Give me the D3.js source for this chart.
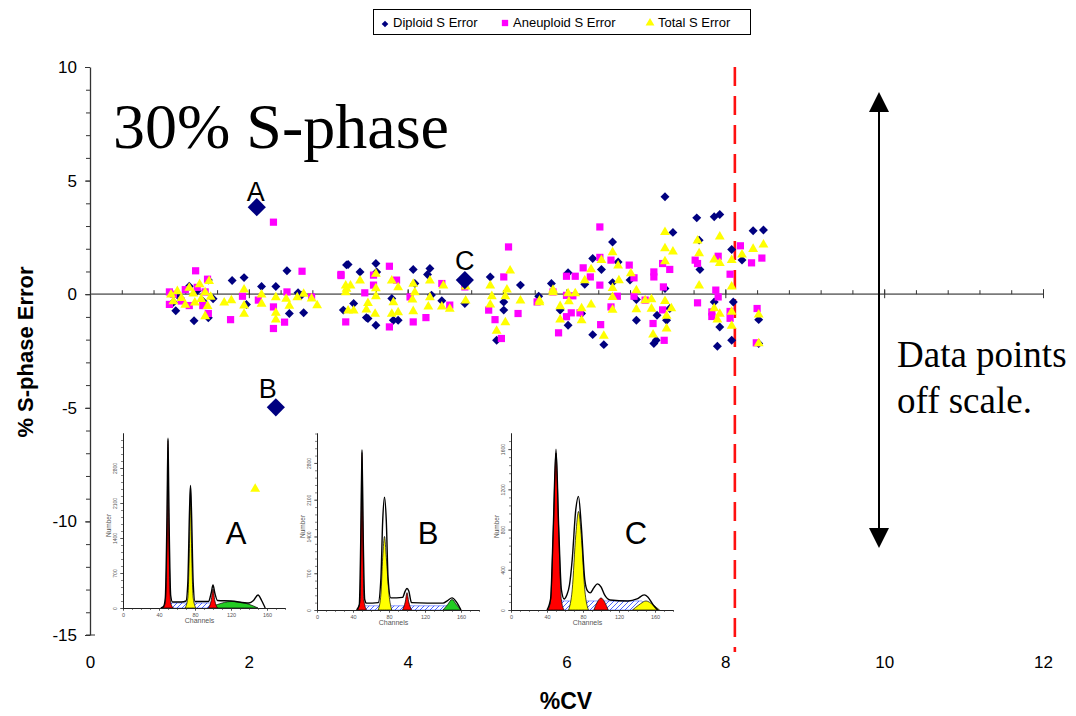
<!DOCTYPE html>
<html><head><meta charset="utf-8">
<script src="https://cdn.jsdelivr.net/npm/d3@7"></script>
<style>
html,body{margin:0;padding:0;background:#fff;}
svg{display:block;font-family:"Liberation Sans",Arial,sans-serif;}
</style></head>
<body>
<svg id="chart" width="1076" height="716"></svg>
<script>
// ---------------- DATA ----------------
const xTicks = [0, 2, 4, 6, 8, 10, 12];
const yTicks = [-15, -10, -5, 0, 5, 10];
const seriesNames = ["Diploid S Error", "Aneuploid S Error", "Total S Error"];
const cutoffCV = 8.12;

// [ %CV, % S-phase error ]
const diploid = [
[1.05,-0.35],[1.08,-0.73],[1.12,-0.1],[1.25,0.35],[1.31,-1.17],[1.35,0.15],[1.42,-0.3],[1.49,-1.04],[1.49,0.62],[1.55,-0.2],
[1.79,0.60],[1.94,0.73],[2.16,0.34],[2.34,0.34],[2.48,1.03],[2.51,-0.85],[2.69,-0.82],[2.62,0.06],[2.66,-0.05],[1.97,-0.45],
[3.23,1.29],[3.25,1.31],[3.19,-0.70],[3.32,-0.41],[3.40,0.98],[3.48,-1.03],[3.60,1.35],[3.61,0.98],[3.60,-1.37],[3.50,-1.07],
[3.80,-0.19],[3.82,-1.15],[3.88,-1.15],[4.07,1.09],[4.09,0.47],[4.28,1.13],[4.25,0.87],[4.30,-0.04],[4.43,-0.29],[4.72,-0.41],
[5.04,0.76],[5.21,-0.34],[5.21,-0.70],[5.42,0.40],[5.12,-2.03],[5.65,-0.09],[5.81,0.47],[5.92,-0.70],
[6.02,0.94],[6.02,-1.37],[6.19,-0.85],[6.23,0.44],[6.33,1.57],[6.33,-1.78],[6.44,1.09],[6.47,-2.22],[6.58,2.30],[6.58,0.51],
[6.65,1.42],[6.80,0.62],[6.88,-0.23],[6.88,-1.15],[7.10,-2.17],[7.13,-2.03],[7.14,-0.93],[7.24,4.29],[7.24,0.25],[7.26,-1.15],
[7.30,-0.63],[7.34,2.72],[7.64,3.36],[7.67,2.38],[7.68,1.09],[7.86,3.41],[7.93,3.51],[7.86,-0.34],[7.93,-1.44],[7.90,-2.29],
[8.08,1.97],[8.08,-2.03],[8.10,-0.34],[8.21,1.50],[8.35,2.79],[8.48,2.83],[8.42,-1.12],[8.42,-2.17]
];
const aneuploid = [
[1.0,0.1],[1.0,-0.45],[1.05,0.0],[1.15,-0.3],[1.2,0.2],[1.25,-0.5],[1.33,1.03],[1.35,0.3],[1.45,0.1],[1.48,0.66],
[1.49,-0.85],[1.42,-0.5],[1.77,-1.12],[1.92,-0.09],[2.12,-0.26],[2.31,-0.56],[2.31,-1.51],[2.45,-1.23],[2.48,0.10],[2.31,3.17],
[2.67,1.01],[2.79,-0.12],[3.16,0.82],[3.22,-1.22],[3.16,0.87],[3.46,0.06],[3.57,0.84],[3.57,0.40],[3.77,1.23],[3.77,-1.44],
[3.86,0.62],[4.03,-0.12],[4.07,-1.22],[4.23,-1.03],[4.43,0.47],[4.53,-0.48],[4.72,0.32],[5.02,-0.70],[5.10,-1.12],[5.18,-1.95],
[5.21,0.76],[5.27,2.08],[5.39,-0.85],[5.63,-0.34],[5.83,0.10],[5.90,-1.70],[6.00,0.79],[6.00,-0.05],[6.00,-0.99],[6.06,-0.82],
[6.08,-0.07],[6.11,0.79],[6.17,-0.82],[6.21,1.16],[6.30,0.76],[6.42,2.96],[6.42,1.62],[6.42,0.40],[6.43,-1.34],[6.56,1.50],
[6.56,-0.56],[6.64,-0.09],[6.79,1.28],[6.85,0.72],[6.85,-0.09],[6.99,-0.26],[7.10,0.98],[7.10,0.76],[7.21,1.35],[7.22,0.32],
[7.30,1.09],[7.21,-0.69],[7.09,-1.29],[7.23,-2.03],[7.62,1.50],[7.65,1.35],[7.65,-0.38],[7.91,1.67],[7.88,0.18],[7.91,-0.12],
[7.83,-0.78],[7.83,-0.98],[8.06,0.88],[8.06,-0.76],[8.06,-1.06],[8.19,2.13],[8.33,1.38],[8.46,1.59],[8.40,-0.63],[8.39,-2.14]
];
const total = [
[1.02,0.0],[1.05,-0.3],[1.1,0.15],[1.15,-0.15],[1.2,-0.45],[1.25,0.3],[1.3,0.05],[1.32,-0.35],[1.38,0.45],[1.4,-0.2],
[1.45,0.1],[1.48,-0.5],[1.5,0.6],[1.52,-0.1],[1.45,-0.95],[1.69,-0.35],[1.78,-0.25],[1.94,0.22],[1.94,-0.48],[1.94,-0.85],
[2.16,0.0],[2.16,-0.4],[2.34,-0.12],[2.34,-0.8],[2.34,-1.1],[2.47,-0.19],[2.51,-0.49],[2.61,-0.12],[2.69,0.03],[2.79,-0.17],
[2.86,-0.47],[2.08,-8.55],
[3.22,0.4],[3.28,0.4],[3.22,0.1],[3.23,0.25],[3.40,0.62],[3.25,-0.7],[3.32,-0.7],[3.50,-0.37],[3.48,-0.66],[3.60,0.28],
[3.60,-0.07],[3.60,0.91],[3.59,-0.85],[3.80,0.62],[3.88,0.32],[3.82,-0.34],[3.88,-0.78],[3.80,-0.85],[4.07,0.47],[4.09,0.1],
[4.07,-0.73],[4.06,-0.22],[4.28,0.62],[4.28,-0.12],[4.26,-0.53],[4.45,0.40],[4.43,-0.53],[4.53,-0.63],[4.73,0.35],[4.73,-0.26],
[5.29,1.06],[5.04,0.4],[5.06,-0.07],[5.04,-0.44],[5.23,-0.07],[5.25,0.22],[5.12,-1.59],[5.23,-1.22],[5.42,-0.26],[5.66,-0.26],
[5.83,0.21],[5.66,-0.34],[5.83,0.1],[5.92,-0.51],[5.92,-1.1],[6.02,0.06],[6.03,-0.30],[6.11,0.06],[6.19,-0.60],[6.19,-1.13],
[6.23,0.63],[6.31,1.11],[6.31,-0.44],[6.44,1.52],[6.47,-1.81],[6.58,1.86],[6.58,0.29],[6.58,-0.11],[6.58,-0.67],[6.65,1.28],
[6.66,0.63],[6.81,0.94],[6.88,0.19],[6.88,-0.65],[6.99,-0.25],[7.07,-0.21],[7.07,-0.62],[7.09,-1.76],[7.24,2.75],[7.24,2.04],
[7.34,1.89],[7.24,1.46],[7.24,-0.28],[7.26,-0.93],[7.26,-1.5],[7.32,-0.6],[7.65,2.38],[7.67,1.82],[7.67,0.4],[7.86,1.54],
[7.93,1.39],[7.93,2.55],[7.86,-0.6],[7.93,-0.85],[7.90,-1.1],[8.08,1.52],[8.08,0.35],[8.08,-0.76],[8.08,-1.37],[8.21,1.76],
[8.35,2.01],[8.48,2.20],[8.42,-0.88],[8.42,-2.14]
];
// highlighted example samples (diploid S error)
const exampleLabels = ["A", "B", "C"];
const exampleCV = [2.10, 2.34, 4.72];
const exampleErr = [3.83, -4.98, 0.62];

// DNA histogram insets: [channel, count]
const histAChannelTicks = [0, 40, 80, 120, 160];
const histAYTicks = [0, 700, 1400, 2100, 2800];
const histCYTicks = [0, 400, 800, 1200, 1600];
const histA_S = [[48,0],[52,100],[97,100],[101,0]];
const histA_green = [[95,0],[105,70],[120,130],[135,100],[145,40],[150,0]];
const histA_red1 = [[44,0],[47,100],[49,1600],[50,3350],[51,1600],[53,100],[56,0]];
const histA_red2 = [[95,0],[98,150],[100,380],[102,150],[105,0]];
const histA_yellow = [[69,0],[72,200],[74,1400],[75,2400],[76,1400],[78,200],[81,0]];
const histA_env = [[42,0],[45,30],[47,200],[49,2000],[50,3400],[51,2000],[53,250],[55,120],[65,120],[70,140],[72,500],[74,2000],[75,2450],[76,2000],[78,500],[80,130],[95,130],[98,300],[100,460],[102,300],[105,150],[120,140],[140,100],[145,150],[150,260],[154,150],[158,0]];

const histB_S = [[50,0],[53,80],[145,80],[150,0]];
const histB_green = [[140,0],[145,100],[150,200],[155,100],[160,0]];
const histB_red1 = [[45,0],[48,200],[49,1800],[50,3000],[51,1800],[52,200],[55,0]];
const histB_red2 = [[95,0],[98,150],[100,330],[102,150],[105,0]];
const histB_yellow = [[68,0],[71,300],[73,1000],[75,1400],[77,1000],[80,300],[83,0]];
const histB_env = [[44,0],[47,100],[49,1800],[50,3050],[51,1800],[53,200],[55,130],[68,140],[71,600],[73,1700],[75,2150],[77,1700],[79,600],[82,230],[95,240],[98,360],[100,410],[102,360],[105,140],[140,130],[145,180],[150,230],[155,150],[160,0]];

const histC_S = [[52,0],[56,90],[145,90],[150,0]];
const histC_yellow2 = [[135,0],[142,50],[150,90],[158,50],[165,0]];
const histC_red1 = [[41,0],[44,100],[47,800],[50,1560],[53,800],[56,100],[59,0]];
const histC_red2 = [[92,0],[96,80],[100,120],[104,80],[108,0]];
const histC_yellow = [[64,0],[68,200],[72,750],[75,980],[78,750],[82,200],[86,0]];
const histC_env = [[40,0],[44,110],[47,820],[50,1600],[53,820],[56,200],[59,110],[62,150],[65,250],[68,500],[72,1000],[75,1130],[78,850],[82,300],[85,190],[88,170],[92,220],[96,260],[100,230],[104,150],[110,100],[130,90],[140,110],[148,150],[152,130],[158,50],[163,0]];

// ---------------- DRAW ----------------
const svg = d3.select("#chart");
const defs = svg.append("defs");
const hatch = defs.append("pattern").attr("id","hatch").attr("patternUnits","userSpaceOnUse")
  .attr("width",5).attr("height",5);
hatch.append("rect").attr("width",5).attr("height",5).attr("fill","#fff");
hatch.append("path").attr("d","M-1,6 L6,-1").attr("stroke","#2040ff").attr("stroke-width",0.8);

const xS = d3.scaleLinear().domain([0,12]).range([90,1043]);
const yS = d3.scaleLinear().domain([-15,10]).range([635,67]);
const plain = d => String(d);

// ---- insets ----
function drawInset(cfg){
  const g = svg.append("g");
  const ix = d3.scaleLinear().domain([0,180]).range([cfg.x0, cfg.x0+162]);
  const iy = d3.scaleLinear().domain([0,cfg.yMax]).range([cfg.y0, cfg.yTop]);
  const area = d3.area().x(d=>ix(d[0])).y0(iy(0)).y1(d=>iy(d[1])).curve(d3.curveMonotoneX);
  const line = d3.line().x(d=>ix(d[0])).y(d=>iy(d[1])).curve(d3.curveMonotoneX);
  cfg.layers.forEach(L=>{
    g.append("path").attr("d",area(L.data)).attr("fill",L.fill)
      .attr("stroke",L.fill===HAT?"#2040ff":"#000").attr("stroke-width",L.fill===HAT?0.5:0.7);
  });
  g.append("path").attr("d",line(cfg.env)).attr("fill","none").attr("stroke","#000").attr("stroke-width",1.4);
  // axes
  const ax = g.append("g").attr("transform",`translate(0,${cfg.y0})`)
    .call(d3.axisBottom(ix).tickValues(histAChannelTicks).tickFormat(plain).tickSize(3).tickSizeOuter(0));
  ax.selectAll("text").attr("font-size",5.5).attr("fill","#555").attr("dy","0.5em");
  g.append("g").attr("transform",`translate(0,${cfg.y0})`)
    .call(d3.axisBottom(ix).tickValues(d3.range(0,181,10)).tickSize(2).tickFormat("").tickSizeOuter(0));
  const ay = g.append("g").attr("transform",`translate(${cfg.x0},0)`)
    .call(d3.axisLeft(iy).tickValues(cfg.yTicks).tickFormat(plain).tickSize(3).tickSizeOuter(0));
  ay.selectAll(".tick text").each(function(d){
    d3.select(this).attr("x",null).attr("dy",null).attr("text-anchor","middle")
      .attr("font-size",5).attr("fill","#555")
      .attr("transform",`translate(-6,0) rotate(-90)`);
  });
  g.append("g").attr("transform",`translate(${cfg.x0},0)`)
    .call(d3.axisLeft(iy).tickValues(d3.range(0,cfg.yMax,cfg.yMinor)).tickSize(2).tickFormat("").tickSizeOuter(0));
  g.selectAll(".domain").attr("stroke","#222").attr("stroke-width",1);
  g.selectAll(".tick line").attr("stroke","#333").attr("stroke-width",0.6);
  g.append("text").attr("transform",`translate(${cfg.x0-12},${(cfg.y0+cfg.yTop)/2+5}) rotate(-90)`)
    .attr("text-anchor","middle").attr("font-size",6.5).attr("fill","#555").text("Number");
  g.append("text").attr("x",ix(85)).attr("y",cfg.y0+15).attr("text-anchor","middle")
    .attr("font-size",7).attr("fill","#555").text("Channels");
  g.append("text").attr("x",cfg.lx).attr("y",544).attr("text-anchor","middle")
    .attr("font-size",31).attr("fill","#000").text(cfg.letter);
}
const RED="#ff0000", YEL="#ffff00", GRN="#22cc22", HAT="url(#hatch)";
drawInset({x0:123,y0:608,yTop:433,yMax:3500,yTicks:histAYTicks,yMinor:140,letter:"A",lx:236,
  layers:[{data:histA_S,fill:HAT},{data:histA_green,fill:GRN},{data:histA_red1,fill:RED},{data:histA_red2,fill:RED},{data:histA_yellow,fill:YEL}],
  env:histA_env});
drawInset({x0:317,y0:610,yTop:433,yMax:3370,yTicks:histAYTicks,yMinor:140,letter:"B",lx:428,
  layers:[{data:histB_S,fill:HAT},{data:histB_green,fill:GRN},{data:histB_red1,fill:RED},{data:histB_red2,fill:RED},{data:histB_yellow,fill:YEL}],
  env:histB_env});
drawInset({x0:511,y0:610,yTop:433,yMax:1760,yTicks:histCYTicks,yMinor:80,letter:"C",lx:636,
  layers:[{data:histC_S,fill:HAT},{data:histC_yellow2,fill:YEL},{data:histC_red1,fill:RED},{data:histC_red2,fill:RED},{data:histC_yellow,fill:YEL}],
  env:histC_env});

// ---- axes ----
const yAx = svg.append("g").attr("transform","translate(90,0)")
  .call(d3.axisLeft(yS).tickValues(yTicks).tickFormat(plain).tickSize(5).tickPadding(8).tickSizeOuter(0));
yAx.selectAll("text").attr("font-size",17).attr("fill","#000");
svg.append("g").attr("transform","translate(90,0)")
  .call(d3.axisLeft(yS).tickValues(d3.range(-15,11,1)).tickSize(4).tickFormat("").tickSizeOuter(0))
  .select(".domain").remove();
svg.append("line").attr("x1",86).attr("x2",95).attr("y1",yS(-15)).attr("y2",yS(-15)).attr("stroke","#333");
yAx.select(".domain").attr("stroke","#333").attr("stroke-width",1.3);

// zero line with ticks
svg.append("line").attr("x1",xS(0)).attr("x2",xS(12)).attr("y1",yS(0)).attr("y2",yS(0))
  .attr("stroke","#7a7a7a").attr("stroke-width",1.8);
const zt = svg.append("g").attr("transform",`translate(0,${yS(0)})`)
  .call(d3.axisTop(xS).tickValues(d3.range(0,12.01,0.4)).tickSize(4).tickFormat("").tickSizeOuter(0));
zt.select(".domain").remove();
const zt2 = svg.append("g").attr("transform",`translate(0,${yS(0)+4})`)
  .call(d3.axisTop(xS).tickValues(xTicks).tickSize(9).tickFormat("").tickSizeOuter(0));
zt2.select(".domain").remove();
svg.selectAll(".tick line").attr("stroke","#333");

// x tick labels (bottom)
const xl = svg.append("g").attr("transform","translate(0,652)")
  .call(d3.axisBottom(xS).tickValues(xTicks).tickFormat(plain).tickSize(0).tickPadding(4));
xl.select(".domain").remove();
xl.selectAll("text").attr("font-size",17).attr("fill","#000");

// axis titles
svg.append("text").attr("x",566).attr("y",709).attr("text-anchor","middle")
  .attr("font-size",23).attr("font-weight","bold").text("%CV");
svg.append("text").attr("transform","translate(33,352) rotate(-90)").attr("text-anchor","middle")
  .attr("font-size",22).attr("font-weight","bold").text("% S-phase Error");

// cutoff dashed line
svg.append("line").attr("x1",xS(cutoffCV)).attr("x2",xS(cutoffCV)).attr("y1",yS(10)).attr("y2",652)
  .attr("stroke","#ff1010").attr("stroke-width",2.6).attr("stroke-dasharray","19,10");

// ---- points ----
const diamondPath = d3.symbol(d3.symbolSquare, 40)();
const squarePath = d3.symbol(d3.symbolSquare, 52)();
const triPath = d3.symbol(d3.symbolTriangle, 42)();
const bigDiamond = d3.symbol(d3.symbolSquare, 165)();
svg.append("g").selectAll("path").data(diploid).join("path").attr("d",diamondPath)
  .attr("transform",d=>`translate(${xS(d[0])},${yS(d[1])}) rotate(45)`).attr("fill","#000080");
svg.append("g").selectAll("path").data(aneuploid).join("path").attr("d",squarePath)
  .attr("transform",d=>`translate(${xS(d[0])},${yS(d[1])})`).attr("fill","#ff00ff");
svg.append("g").selectAll("path").data(total).join("path").attr("d",triPath)
  .attr("transform",d=>`translate(${xS(d[0])},${yS(d[1])+0.5})`).attr("fill","#ffff00");
const ex = exampleLabels.map((l,i)=>({l, cv:exampleCV[i], e:exampleErr[i]}));
svg.append("g").selectAll("path").data(ex).join("path").attr("d",bigDiamond)
  .attr("transform",d=>`translate(${xS(d.cv)},${yS(d.e)}) rotate(45)`).attr("fill","#000080");
const labOff = {A:[-1,-6],B:[-8,-9],C:[0,-10]};
svg.append("g").selectAll("text").data(ex).join("text")
  .attr("x",d=>xS(d.cv)+labOff[d.l][0]).attr("y",d=>yS(d.e)+labOff[d.l][1])
  .attr("text-anchor","middle").attr("font-size",27).text(d=>d.l);

// ---- annotations ----
svg.append("text").attr("x",113).attr("y",148).attr("font-family","'Liberation Serif','Times New Roman',serif")
  .attr("font-size",64).text("30% S-phase");
const ann = svg.append("text").attr("font-family","'Liberation Serif','Times New Roman',serif").attr("font-size",37);
ann.append("tspan").attr("x",897).attr("y",367).text("Data points");
ann.append("tspan").attr("x",897).attr("y",413).text("off scale.");
// double arrow
svg.append("line").attr("x1",879).attr("x2",879).attr("y1",110).attr("y2",530).attr("stroke","#000").attr("stroke-width",2);
svg.append("path").attr("d","M879,92 L869,112 L889,112 Z").attr("fill","#000");
svg.append("path").attr("d","M879,548 L869,528 L889,528 Z").attr("fill","#000");

// ---- legend ----
const lg = svg.append("g");
lg.append("rect").attr("x",373.5).attr("y",9.5).attr("width",377).attr("height",25).attr("fill","#fff").attr("stroke","#000");
const legX = [385, 505, 650];
const legShapes = [ {p:d3.symbol(d3.symbolSquare,22)(), r:45, c:"#000080"},
  {p:d3.symbol(d3.symbolSquare,40)(), r:0, c:"#ff00ff"},
  {p:d3.symbol(d3.symbolTriangle,34)(), r:0, c:"#ffff00"} ];
seriesNames.forEach((n,i)=>{
  lg.append("path").attr("d",legShapes[i].p).attr("fill",legShapes[i].c)
    .attr("transform",`translate(${legX[i]},${i===0?24:23}) rotate(${legShapes[i].r})`);
  lg.append("text").attr("x",legX[i]+8).attr("y",27).attr("font-size",13).text(n);
});
</script>
</body></html>
